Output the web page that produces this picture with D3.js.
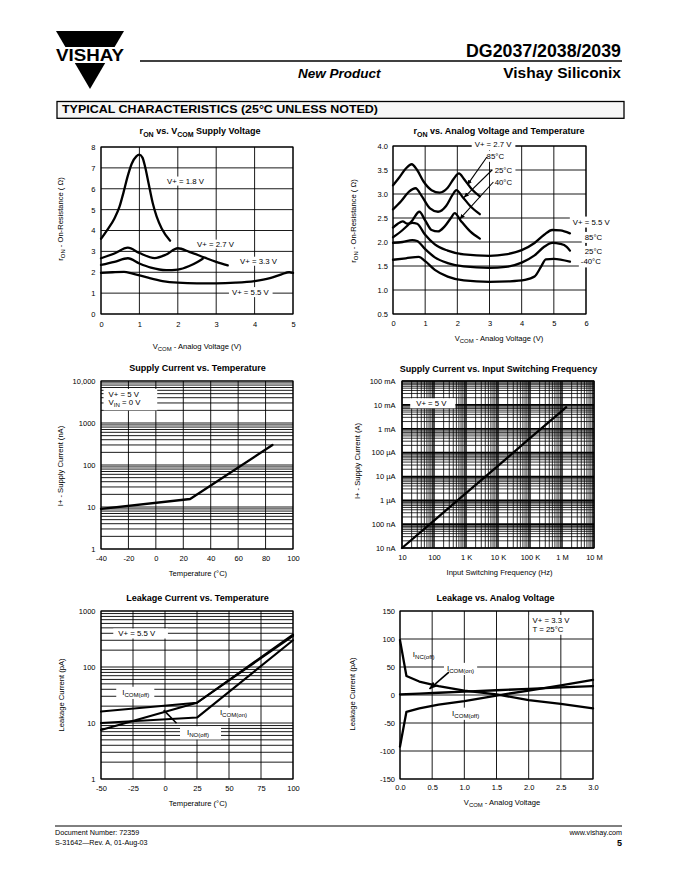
<!DOCTYPE html>
<html><head><meta charset="utf-8">
<script src="https://cdn.jsdelivr.net/npm/d3@7"></script>
<style>
body{margin:0;background:#fff}
svg{display:block}
text{font-family:"Liberation Sans",Arial,Helvetica,sans-serif;fill:#000}
</style>
</head><body>
<svg id="page" width="680" height="880"></svg>
<script>
// ================= DATA =================
// Chart 1: rON vs VCOM, supply voltage  [VCOM (V), rON (ohm)]
const c1XTicks = [0, 1, 2, 3, 4, 5];
const c1YTicks = [0, 1, 2, 3, 4, 5, 6, 7, 8];
const c1V18 = [[0,3.6],[0.16,4.02],[0.35,4.58],[0.48,5.13],[0.59,5.85],[0.69,6.57],[0.8,7.2],[0.92,7.55],[1.0,7.63],[1.08,7.49],[1.15,7.04],[1.24,6.25],[1.35,5.29],[1.45,4.66],[1.58,4.1],[1.8,3.51]];
const c1V27 = [[0,2.35],[0.35,2.5],[0.7,2.67],[1.0,2.42],[1.3,2.22],[1.7,2.1],[2.0,2.13],[2.3,2.3],[2.5,2.48],[2.65,2.65]];
const c1V33 = [[0,2.67],[0.35,2.9],[0.7,3.18],[1.0,2.92],[1.4,2.68],[1.7,2.85],[2.0,3.15],[2.3,2.98],[2.7,2.7],[3.0,2.5],[3.3,2.33]];
const c1V55 = [[0,1.97],[0.3,2.0],[0.6,2.02],[0.8,1.95],[1.2,1.75],[1.6,1.58],[2.0,1.5],[2.5,1.47],[3.0,1.47],[3.5,1.5],[4.0,1.58],[4.4,1.72],[4.7,1.9],[4.9,2.0],[5.0,1.97]];

// Chart 2: rON vs analog voltage and temperature
const c2XTicks = [0, 1, 2, 3, 4, 5, 6];
const c2YTicks = [0.5, 1.0, 1.5, 2.0, 2.5, 3.0, 3.5, 4.0];
const c2V27T85 = [[0,3.18],[0.2,3.35],[0.4,3.53],[0.58,3.62],[0.75,3.5],[0.95,3.26],[1.2,3.08],[1.45,3.03],[1.7,3.13],[1.9,3.33],[2.05,3.43],[2.2,3.32],[2.45,3.1],[2.7,2.95]];
const c2V27T25 = [[0,2.68],[0.25,2.85],[0.5,3.05],[0.7,3.12],[0.9,2.95],[1.15,2.7],[1.4,2.63],[1.65,2.75],[1.85,2.98],[1.97,3.08],[2.15,2.95],[2.4,2.75],[2.7,2.58]];
const c2V27Tm40 = [[0,2.1],[0.3,2.25],[0.6,2.45],[0.82,2.63],[1.0,2.45],[1.2,2.25],[1.4,2.22],[1.6,2.32],[1.8,2.5],[1.92,2.6],[2.1,2.45],[2.4,2.22],[2.7,2.07]];
const c2V55T85 = [[0,2.3],[0.15,2.38],[0.3,2.43],[0.45,2.38],[0.6,2.4],[0.75,2.38],[1.0,2.15],[1.3,1.95],[1.7,1.82],[2.2,1.74],[3.0,1.71],[3.5,1.74],[4.0,1.83],[4.4,1.98],[4.7,2.15],[4.95,2.25],[5.2,2.24],[5.5,2.18]];
const c2V55T25 = [[0,1.98],[0.3,2.0],[0.6,2.04],[0.75,2.02],[1.0,1.85],[1.3,1.68],[1.7,1.56],[2.2,1.49],[3.0,1.46],[3.5,1.48],[4.0,1.57],[4.4,1.72],[4.7,1.9],[4.95,1.98],[5.2,1.96],[5.4,1.9],[5.5,1.82]];
const c2V55Tm40 = [[0,1.63],[0.4,1.66],[0.8,1.69],[1.0,1.6],[1.3,1.42],[1.7,1.28],[2.2,1.2],[3.0,1.17],[3.6,1.18],[4.1,1.21],[4.4,1.28],[4.6,1.48],[4.75,1.64],[5.0,1.65],[5.5,1.59]];

// Chart 3: supply current vs temperature
const c3XTicks = [-40, -20, 0, 20, 40, 60, 80, 100];
const c3YTicks = [1, 10, 100, 1000, 10000];
const c3YTickLabels = ["1", "10", "100", "1000", "10,000"];
const c3Temp = [-40, 25, 85];
const c3Current = [9, 15.5, 300];

// Chart 4: supply current vs input switching frequency
const c4XTicks = [1e1, 1e2, 1e3, 1e4, 1e5, 1e6, 1e7];
const c4XTickLabels = ["10", "100", "1 K", "10 K", "100 K", "1 M", "10 M"];
const c4YTicks = [1e-8, 1e-7, 1e-6, 1e-5, 1e-4, 1e-3, 1e-2, 1e-1];
const c4YTickLabels = ["10 nA", "100 nA", "1 \u00b5A", "10 \u00b5A", "100 \u00b5A", "1 mA", "10 mA", "100 mA"];
const c4Freq = [10, 100, 1e3, 1e4, 1e5, 1e6, 1.35e6];
const c4Current = [1e-8, 1.4e-7, 2e-6, 2.8e-5, 4e-4, 5.6e-3, 8e-3];

// Chart 5: leakage current vs temperature
const c5XTicks = [-50, -25, 0, 25, 50, 75, 100];
const c5YTicks = [1, 10, 100, 1000];
const c5Temp = [-50, 25, 100];
const c5ICOMoff = [16, 23, 360];
const c5ICOMon = [10, 12.5, 300];
const c5INOoff = [7.5, 23, 380];

// Chart 6: leakage vs analog voltage
const c6XTicks = [0, 0.5, 1.0, 1.5, 2.0, 2.5, 3.0];
const c6YTicks = [-150, -100, -50, 0, 50, 100, 150];
const c6V = [0, 0.1, 0.3, 0.6, 1.0, 1.5, 2.0, 2.5, 3.0];
const c6INCoff = [98, 34, 24, 16, 8, 1, -9, -16, -24];
const c6ICOMoff = [-92, -30, -24, -17, -11, -1, 8, 17, 27];
const c6ICOMon = [1, 1.5, 2.5, 4, 6, 8.5, 11, 13.5, 16];

// ================= DRAWING =================
const FONT = '"Liberation Sans", Arial, Helvetica, sans-serif';
const svg = d3.select('#page');
const defs = svg.append('defs');
defs.append('marker').attr('id', 'arr').attr('viewBox', '0 0 10 10').attr('refX', 9).attr('refY', 5)
  .attr('markerWidth', 5).attr('markerHeight', 5).attr('orient', 'auto-start-reverse')
  .append('path').attr('d', 'M0,1 L10,5 L0,9 z').attr('fill', '#000');

const intFmt = d => String(d);
const fix1 = d => d.toFixed(1);

function addRich(textSel, str, fs) {
  const re = /_\{([^}]*)\}/g;
  let last = 0, m;
  const parts = [];
  while ((m = re.exec(str))) {
    if (m.index > last) parts.push([str.slice(last, m.index), false]);
    parts.push([m[1], true]);
    last = re.lastIndex;
  }
  if (last < str.length) parts.push([str.slice(last), false]);
  let shifted = 0;
  parts.forEach(([t, isSub]) => {
    const ts = textSel.append('tspan').text(t);
    const target = isSub ? fs * 0.28 : 0;
    if (target !== shifted) { ts.attr('dy', target - shifted); shifted = target; }
    if (isSub) ts.attr('font-size', fs * 0.78);
  });
  return textSel;
}

const zip = (a, b) => a.map((v, i) => [v, b[i]]);

function makeChart(o) {
  const x = (o.xLog ? d3.scaleLog() : d3.scaleLinear()).domain(o.xDomain).range([o.L, o.L + o.W]);
  const y = (o.yLog ? d3.scaleLog() : d3.scaleLinear()).domain(o.yDomain).range([o.T + o.H, o.T]);
  const g = svg.append('g');
  const gridL = g.append('g'), boxL = g.append('g'), serL = g.append('g'), txtL = g.append('g');

  gridL.append('g').selectAll('line').data(o.xGrid).join('line')
    .attr('x1', d => x(d)).attr('x2', d => x(d)).attr('y1', o.T).attr('y2', o.T + o.H)
    .attr('stroke', '#000').attr('stroke-width', d => o.xGridW ? o.xGridW(d) : 0.9);
  gridL.append('g').selectAll('line').data(o.yGrid).join('line')
    .attr('y1', d => y(d)).attr('y2', d => y(d)).attr('x1', o.L).attr('x2', o.L + o.W)
    .attr('stroke', '#000').attr('stroke-width', d => o.yGridW ? o.yGridW(d) : 0.9);
  gridL.append('rect').attr('x', o.L).attr('y', o.T).attr('width', o.W).attr('height', o.H)
    .attr('fill', 'none').attr('stroke', '#000').attr('stroke-width', 1.1);

  const xAxis = d3.axisBottom(x).tickValues(o.xTicks)
    .tickFormat((d, i) => o.xTickLabels ? o.xTickLabels[i] : o.xFmt(d)).tickSize(0).tickPadding(o.xPad);
  g.append('g').attr('transform', `translate(0,${o.T + o.H})`).call(xAxis)
    .call(a => a.select('.domain').remove())
    .attr('font-size', 7.5).attr('font-family', FONT);
  const yAxis = d3.axisLeft(y).tickValues(o.yTicks)
    .tickFormat((d, i) => o.yTickLabels ? o.yTickLabels[i] : o.yFmt(d)).tickSize(0).tickPadding(o.yPad);
  g.append('g').attr('transform', `translate(${o.L},0)`).call(yAxis)
    .call(a => a.select('.domain').remove())
    .attr('font-size', 7.5).attr('font-family', FONT);

  addRich(txtL.append('text').attr('x', o.title[1]).attr('y', o.title[2]).attr('dy', '0.35em')
    .attr('text-anchor', 'middle').attr('font-size', 9).attr('font-weight', 'bold'), o.title[0], 9);
  addRich(txtL.append('text').attr('x', o.xLabel[1]).attr('y', o.xLabel[2]).attr('dy', '0.35em')
    .attr('text-anchor', 'middle').attr('font-size', 7.6), o.xLabel[0], 7.6);
  addRich(txtL.append('text').attr('transform', `translate(${o.yLabel[1]},${o.yLabel[2]}) rotate(-90)`)
    .attr('dy', '0.35em').attr('text-anchor', 'middle').attr('font-size', 7.6), o.yLabel[0], 7.6);

  const line = d3.line().x(d => x(d[0])).y(d => y(d[1])).curve(o.curve || d3.curveLinear);
  o.series.forEach(s => serL.append('path').attr('d', line(s)).attr('fill', 'none')
    .attr('stroke', '#000').attr('stroke-width', o.lw || 2.3)
    .attr('stroke-linejoin', 'round').attr('stroke-linecap', 'round'));

  (o.notes || []).forEach(n => {
    const tg = txtL.append('g');
    n.lines.forEach((ln, i) => {
      const tx = tg.append('text').attr('x', x(n.x)).attr('y', y(n.y) + i * (n.lh || 9))
        .attr('dy', '0.35em').attr('font-size', 7.8).attr('text-anchor', 'start');
      addRich(tx, ln, 7.8);
    });
    if (n.pad) {
      const b = tg.node().getBBox();
      boxL.append('rect').attr('x', b.x - n.pad[0]).attr('y', b.y - n.pad[2])
        .attr('width', b.width + n.pad[0] + n.pad[1]).attr('height', b.height + n.pad[2] + n.pad[3])
        .attr('fill', '#fff');
    }
  });
  (o.arrows || []).forEach(a => {
    const ln = txtL.append('line').attr('x1', x(a[0][0])).attr('y1', y(a[0][1]))
      .attr('x2', x(a[1][0])).attr('y2', y(a[1][1])).attr('stroke', '#000').attr('stroke-width', a[2] || 1.1);
    if (a[3]) ln.attr('marker-end', 'url(#arr)');
  });
  return { x, y };
}

const logMinors = (lo, hi) => {
  const out = [];
  for (let e = lo; e < hi; e++) for (let k = 1; k <= 9; k++) out.push(k * Math.pow(10, e));
  out.push(Math.pow(10, hi));
  return out;
};
const isDecade = d => Math.abs(Math.log10(d) - Math.round(Math.log10(d))) < 1e-9;

// ---- Chart 1 ----
makeChart({
  L: 101, T: 147, W: 192, H: 167,
  xDomain: [0, 5], yDomain: [0, 8],
  xGrid: c1XTicks, yGrid: c1YTicks,
  xTicks: c1XTicks, yTicks: c1YTicks, xFmt: intFmt, yFmt: intFmt,
  xPad: 7.2, yPad: 5.5,
  title: ['r_{ON} vs. V_{COM} Supply Voltage', 200, 131],
  xLabel: ['V_{COM}  -  Analog Voltage (V)', 197, 346],
  yLabel: ['r_{ON}  -  On-Resistance ( \u03a9)', 60, 219],
  curve: d3.curveMonotoneX,
  series: [c1V18, c1V27, c1V33, c1V55],
  notes: [
    { x: 1.72, y: 6.38, lines: ['V+ = 1.8 V'], pad: [2, 2, 0, 0] },
    { x: 2.5, y: 3.36, lines: ['V+ = 2.7 V'], pad: [2, 2, 0, 0] },
    { x: 3.62, y: 2.54, lines: ['V+ = 3.3 V'], pad: [2, 2, 0, 0] },
    { x: 3.41, y: 1.06, lines: ['V+ = 5.5 V'], pad: [3, 3, 0.5, 0.5] }
  ]
});

// ---- Chart 2 ----
makeChart({
  L: 393, T: 146, W: 193, H: 168,
  xDomain: [0, 6], yDomain: [0.5, 4.0],
  xGrid: c2XTicks, yGrid: c2YTicks,
  xTicks: c2XTicks, yTicks: c2YTicks, xFmt: intFmt, yFmt: fix1,
  xPad: 7, yPad: 5,
  title: ['r_{ON} vs. Analog Voltage and Temperature', 499, 131],
  xLabel: ['V_{COM}  -  Analog Voltage (V)', 499, 338],
  yLabel: ['r_{ON}  -  On-Resistance ( \u03a9)', 353, 221],
  curve: d3.curveMonotoneX,
  series: [c2V27T85, c2V27T25, c2V27Tm40, c2V55T85, c2V55T25, c2V55Tm40],
  notes: [
    { x: 2.54, y: 4.03, lines: ['V+ = 2.7 V'], pad: [3, 3, 1, 1] },
    { x: 2.91, y: 3.79, lines: ['85\u00b0C'], pad: [2, 3, 1, 1] },
    { x: 3.16, y: 3.5, lines: ['25\u00b0C'], pad: [2, 3, 1, 1] },
    { x: 3.16, y: 3.25, lines: ['40\u00b0C'], pad: [2, 3, 1, 1] },
    { x: 5.59, y: 2.42, lines: ['V+ = 5.5 V'], pad: [3, 3, 1, 1] },
    { x: 5.96, y: 2.1, lines: ['85\u00b0C'], pad: [3, 3, 1, 1] },
    { x: 5.96, y: 1.81, lines: ['25\u00b0C'], pad: [3, 3, 1, 1] },
    { x: 5.84, y: 1.59, lines: ['-40\u00b0C'], pad: [2, 3, 1, 1] }
  ],
  arrows: [
    [[2.92, 3.77], [2.31, 3.19], 1.1, true],
    [[3.08, 3.5], [2.21, 2.93], 1.1, true],
    [[3.12, 3.25], [2.08, 2.48], 1.1, true]
  ]
});

// ---- Chart 3 ----
makeChart({
  L: 101, T: 381, W: 192, H: 168,
  xDomain: [-40, 100], yDomain: [1, 10000], yLog: true,
  xGrid: c3XTicks, yGrid: logMinors(0, 4),
  xTicks: c3XTicks, yTicks: c3YTicks, xFmt: intFmt, yTickLabels: c3YTickLabels,
  xPad: 6.4, yPad: 5.5,
  title: ['Supply Current vs. Temperature', 197.5, 368],
  xLabel: ['Temperature (\u00b0C)', 198, 573],
  yLabel: ['I+  -  Supply Current (nA)', 60, 466],
  series: [zip(c3Temp, c3Current)],
  notes: [
    { x: -34.5, y: 4840, lines: ['V+ = 5 V', 'V_{IN} = 0 V'], lh: 8.2, pad: [5, 16, 1, 2] }
  ]
});

// ---- Chart 4 ----
makeChart({
  L: 402, T: 381, W: 192, H: 167,
  xDomain: [10, 1e7], xLog: true, yDomain: [1e-8, 1e-1], yLog: true,
  xGrid: logMinors(1, 7), yGrid: logMinors(-8, -1),
  xGridW: d => isDecade(d) ? 1.4 : 0.8, yGridW: d => isDecade(d) ? 1.6 : 0.8,
  xTicks: c4XTicks, xTickLabels: c4XTickLabels, yTicks: c4YTicks, yTickLabels: c4YTickLabels,
  xPad: 6.4, yPad: 6.5,
  title: ['Supply Current vs. Input Switching Frequency', 498.5, 369],
  xLabel: ['Input Switching Frequency (Hz)', 499.5, 572],
  yLabel: ['I+  -  Supply Current (A)', 357, 461],
  series: [zip(c4Freq, c4Current)],
  notes: [
    { x: 27.8, y: 0.0119, lines: ['V+ = 5 V'], pad: [6, 8, 0.5, 0.5] }
  ]
});

// ---- Chart 5 ----
makeChart({
  L: 101, T: 611, W: 192, H: 168,
  xDomain: [-50, 100], yDomain: [1, 1000], yLog: true,
  xGrid: c5XTicks, yGrid: logMinors(0, 3),
  xTicks: c5XTicks, yTicks: c5YTicks, xFmt: intFmt, yFmt: intFmt,
  xPad: 6.4, yPad: 5.5,
  title: ['Leakage Current vs. Temperature', 197.5, 598],
  xLabel: ['Temperature (\u00b0C)', 198, 803],
  yLabel: ['Leakage Current (pA)', 61, 695],
  lw: 2.1,
  series: [zip(c5Temp, c5ICOMoff), zip(c5Temp, c5ICOMon), zip(c5Temp, c5INOoff)],
  notes: [
    { x: -36.5, y: 400, lines: ['V+ = 5.5 V'], pad: [5, 12, 0.5, 0.5] },
    { x: -33.4, y: 35.7, lines: ['I_{COM(off)}'], pad: [6, 5, 1, 1] },
    { x: 42.9, y: 15.7, lines: ['I_{COM(on)}'], pad: [2, 2, 0, 0] },
    { x: 17.2, y: 6.9, lines: ['I_{NO(off)}'], pad: [7, 12, 1.5, 1.5] }
  ],
  arrows: [
    [[-1, 17], [9, 9.9], 1.6, false]
  ]
});

// ---- Chart 6 ----
makeChart({
  L: 400, T: 611, W: 193, H: 168,
  xDomain: [0, 3], yDomain: [-150, 150],
  xGrid: c6XTicks, yGrid: c6YTicks,
  xTicks: c6XTicks, yTicks: c6YTicks, xFmt: fix1, yFmt: intFmt,
  xPad: 5.8, yPad: 5,
  title: ['Leakage vs. Analog Voltage', 495.5, 598],
  xLabel: ['V_{COM}  -  Analog Voltage', 502, 802],
  yLabel: ['Leakage Current (pA)', 352, 694],
  series: [zip(c6V, c6INCoff), zip(c6V, c6ICOMoff), zip(c6V, c6ICOMon)],
  notes: [
    { x: 2.06, y: 133.5, lines: ['V+ = 3.3 V', 'T = 25\u00b0C'], lh: 8.8, pad: [3, 3, 1, 1] },
    { x: 0.2, y: 73, lines: ['I_{NC(off)}'] },
    { x: 0.73, y: 48, lines: ['I_{COM(on)}'], pad: [3, 3, 1, 1] },
    { x: 0.81, y: -32, lines: ['I_{COM(off)}'], pad: [3, 3, 1, 1] }
  ],
  arrows: [
    [[0.76, 41], [0.46, 11], 1.6, true]
  ]
});

// ================= PAGE FURNITURE =================
// Logo
svg.append('polygon').attr('points', '56,31 124,31 114.6,47 65.4,47').attr('fill', '#000');
svg.append('polygon').attr('points', '74.8,63 105.2,63 90,89').attr('fill', '#000');
svg.append('text').attr('x', 56).attr('y', 60.5).attr('font-size', 16.5).attr('font-weight', 'bold')
  .attr('textLength', 68).attr('lengthAdjust', 'spacingAndGlyphs').text('VISHAY');

// Header
svg.append('text').attr('x', 621).attr('y', 57).attr('text-anchor', 'end').attr('font-size', 19)
  .attr('font-weight', 'bold').attr('textLength', 155).attr('lengthAdjust', 'spacingAndGlyphs').text('DG2037/2038/2039');
svg.append('line').attr('x1', 140).attr('x2', 622).attr('y1', 61).attr('y2', 61).attr('stroke', '#000').attr('stroke-width', 1.3);
svg.append('text').attr('x', 298).attr('y', 77.5).attr('font-size', 13.5).attr('font-weight', 'bold')
  .attr('font-style', 'italic').text('New Product');
svg.append('text').attr('x', 621).attr('y', 78).attr('text-anchor', 'end').attr('font-size', 15.5)
  .attr('font-weight', 'bold').text('Vishay Siliconix');

// Section box
svg.append('rect').attr('x', 57).attr('y', 101.5).attr('width', 567).attr('height', 16.8)
  .attr('fill', '#f6f6f6').attr('stroke', '#000').attr('stroke-width', 1.3);
svg.append('text').attr('x', 62).attr('y', 113.4).attr('font-size', 10.5).attr('font-weight', 900)
  .attr('textLength', 316).attr('lengthAdjust', 'spacingAndGlyphs')
  .text('TYPICAL CHARACTERISTICS (25\u00b0C UNLESS NOTED)');

// Footer
svg.append('line').attr('x1', 55).attr('x2', 622).attr('y1', 826).attr('y2', 826).attr('stroke', '#000').attr('stroke-width', 1);
svg.append('text').attr('x', 55).attr('y', 834.5).attr('font-size', 7.2).text('Document Number:  72359');
svg.append('text').attr('x', 55).attr('y', 845).attr('font-size', 7.2).text('S-31642\u2014Rev. A, 01-Aug-03');
svg.append('text').attr('x', 622).attr('y', 834.5).attr('text-anchor', 'end').attr('font-size', 7.2).text('www.vishay.com');
svg.append('text').attr('x', 622).attr('y', 846).attr('text-anchor', 'end').attr('font-size', 9).attr('font-weight', 'bold').text('5');
</script>
</body></html>
